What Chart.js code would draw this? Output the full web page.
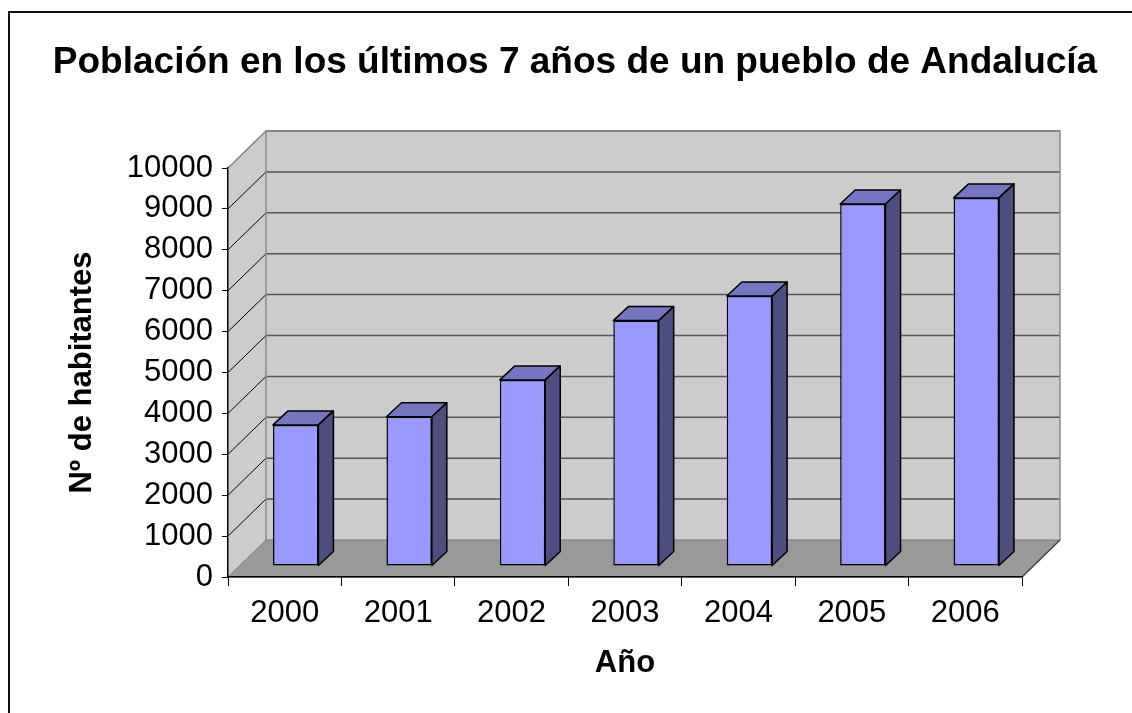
<!DOCTYPE html>
<html lang="es">
<head>
    <meta charset="UTF-8">
    <title>Población en los últimos 7 años de un pueblo de Andalucía</title>
    <script src="https://cdn.jsdelivr.net/npm/chart.js"></script>
    <style>
        body {
            margin: 0;
            padding: 0;
            background: #ffffff;
        }
        #wrap {
            width: 1132px;
            height: 713px;
        }
    </style>
</head>
<body>
    <div id="wrap">
        <canvas id="chart" width="1132" height="713"></canvas>
    </div>

    <script>
        const years = ['2000', '2001', '2002', '2003', '2004', '2005', '2006'];
        const habitantes = [3450, 3650, 4550, 6000, 6600, 8850, 9000];
        const yTicks = [0, 1000, 2000, 3000, 4000, 5000, 6000, 7000, 8000, 9000, 10000];

        // fake 3D depth (pixels)
        const WALL = { dx: 38, dy: -37 };
        const BAR_SHIFT = { dx: 11, dy: -11 };
        const BAR_DEPTH = { dx: 15, dy: -14 };

        Chart.defaults.font.family = "'Liberation Sans', Arial, sans-serif";
        Chart.defaults.color = '#000000';

        function line(ctx, x1, y1, x2, y2) {
            ctx.beginPath();
            ctx.moveTo(x1, y1);
            ctx.lineTo(x2, y2);
            ctx.stroke();
        }

        function face(ctx, pts, fill) {
            ctx.beginPath();
            ctx.moveTo(pts[0][0], pts[0][1]);
            for (let i = 1; i < pts.length; i++) ctx.lineTo(pts[i][0], pts[i][1]);
            ctx.closePath();
            ctx.fillStyle = fill;
            ctx.fill();
            ctx.stroke();
        }

        const walls = {
            id: 'walls',
            beforeDraw(chart) {
                const { ctx, chartArea: a, scales: { y } } = chart;
                const { dx, dy } = WALL;
                ctx.save();

                // outer frame
                ctx.strokeStyle = '#111';
                ctx.lineWidth = 2;
                ctx.strokeRect(9, 12, 1300, 900);

                // back wall + side wall
                ctx.fillStyle = '#cccccc';
                ctx.fillRect(a.left + dx, a.top + dy, a.right - a.left, a.bottom - a.top);
                ctx.beginPath();
                ctx.moveTo(a.left, a.top);
                ctx.lineTo(a.left + dx, a.top + dy);
                ctx.lineTo(a.left + dx, a.bottom + dy);
                ctx.lineTo(a.left, a.bottom);
                ctx.closePath();
                ctx.fill();

                // grid lines
                y.ticks.forEach(t => {
                    if (t.value === 0) return;
                    const py = y.getPixelForValue(t.value);
                    ctx.strokeStyle = '#555555';
                    ctx.lineWidth = 1.5;
                    line(ctx, a.left + dx, py + dy, a.right + dx, py + dy);
                    ctx.strokeStyle = '#000000';
                    ctx.lineWidth = 1;
                    line(ctx, a.left, py, a.left + dx, py + dy);
                });

                // wall edges
                ctx.strokeStyle = '#8a8a8a';
                ctx.lineWidth = 1.5;
                ctx.beginPath();
                ctx.moveTo(a.left + dx, a.bottom + dy);
                ctx.lineTo(a.left + dx, a.top + dy);
                ctx.lineTo(a.right + dx, a.top + dy);
                ctx.lineTo(a.right + dx, a.bottom + dy);
                ctx.stroke();
                line(ctx, a.left, a.top, a.left + dx, a.top + dy);

                // floor
                ctx.strokeStyle = '#777777';
                ctx.lineWidth = 1;
                face(ctx, [[a.left, a.bottom], [a.right, a.bottom],
                    [a.right + dx, a.bottom + dy], [a.left + dx, a.bottom + dy]], '#999999');
                ctx.strokeStyle = '#444444';
                ctx.lineWidth = 1.5;
                line(ctx, a.right, a.bottom, a.right + dx, a.bottom + dy);

                ctx.restore();
            }
        };

        const bars3d = {
            id: 'bars3d',
            beforeDatasetsDraw(chart) {
                chart.ctx.save();
                chart.ctx.translate(BAR_SHIFT.dx, BAR_SHIFT.dy);
            },
            afterDatasetsDraw(chart) {
                const ctx = chart.ctx;
                const { dx, dy } = BAR_DEPTH;
                ctx.lineWidth = 1.5;
                ctx.strokeStyle = '#000000';
                ctx.lineJoin = 'round';
                chart.getDatasetMeta(0).data.forEach(bar => {
                    const { x, y, width, base } = bar.getProps(['x', 'y', 'width', 'base'], true);
                    const l = x - width / 2;
                    const r = x + width / 2;
                    face(ctx, [[l, y], [r, y], [r + dx, y + dy], [l + dx, y + dy]], '#7575c2');
                    face(ctx, [[r, y], [r + dx, y + dy], [r + dx, base + dy], [r, base]], '#4d4d80');
                });
                ctx.restore();
            }
        };

        new Chart(document.getElementById('chart'), {
            type: 'bar',
            data: {
                labels: years,
                datasets: [{
                    label: 'Nº de habitantes',
                    data: habitantes,
                    backgroundColor: '#9999ff',
                    borderColor: '#000000',
                    borderWidth: 1.5,
                    borderSkipped: false,
                    barPercentage: 0.4,
                    categoryPercentage: 1.0,
                    clip: false
                }]
            },
            options: {
                responsive: false,
                animation: false,
                events: [],
                layout: { padding: { left: 18, top: 0, right: 0, bottom: 0 } },
                plugins: {
                    legend: { display: false },
                    tooltip: { enabled: false },
                    title: {
                        display: true,
                        text: 'Población en los últimos 7 años de un pueblo de Andalucía',
                        font: { size: 37, weight: 'bold' },
                        color: '#000000',
                        padding: { top: 41, bottom: 82.6 }
                    }
                },
                scales: {
                    x: {
                        grid: {
                            offset: true,
                            drawOnChartArea: false,
                            tickLength: 9,
                            tickColor: '#000000',
                            lineWidth: 1
                        },
                        border: { color: '#000000', width: 1.5 },
                        ticks: { font: { size: 31 }, color: '#000000', padding: 9 },
                        title: {
                            display: true,
                            text: 'Año',
                            font: { size: 31, weight: 'bold' },
                            color: '#000000',
                            padding: { top: 0, bottom: 31 }
                        },
                        afterFit(scale) { scale.height = 136; }
                    },
                    y: {
                        min: 0,
                        max: 10000,
                        afterBuildTicks(scale) {
                            scale.ticks = yTicks.map(v => ({ value: v }));
                        },
                        grid: {
                            drawOnChartArea: false,
                            tickLength: 6,
                            tickColor: '#000000',
                            lineWidth: 1
                        },
                        border: { color: '#000000', width: 1.5 },
                        ticks: {
                            font: { size: 31 },
                            color: '#000000',
                            padding: 9,
                            callback: v => String(v)
                        },
                        title: {
                            display: true,
                            text: 'Nº de habitantes',
                            font: { size: 31, weight: 'bold' },
                            color: '#000000',
                            padding: { top: 45.4, bottom: 0 }
                        },
                        afterFit(scale) { scale.width = 210; }
                    },
                    yr: {
                        type: 'linear',
                        position: 'right',
                        grid: { display: false, drawTicks: false },
                        border: { display: false },
                        ticks: { display: false },
                        afterFit(scale) { scale.width = 110; }
                    }
                }
            },
            plugins: [walls, bars3d]
        });
    </script>
</body>
</html>
